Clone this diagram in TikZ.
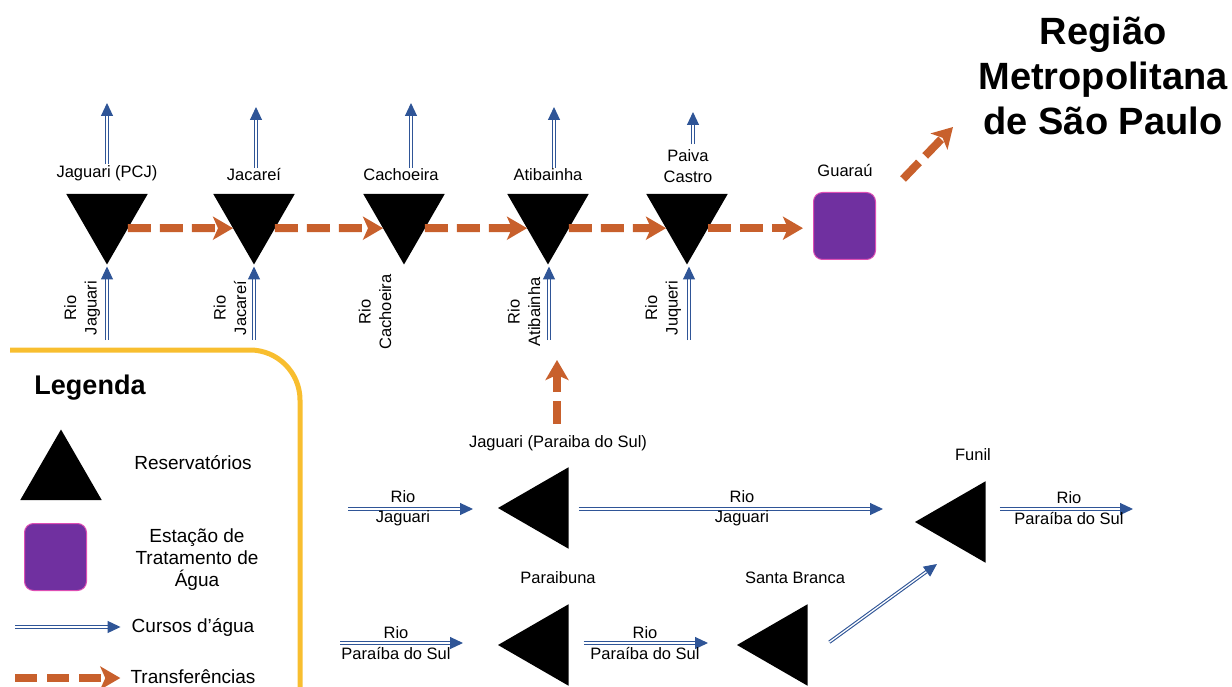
\documentclass[tikz,border=0pt]{standalone}
\usepackage{fontspec}
\setmainfont{Liberation Sans}
\usepackage{xcolor}
\definecolor{riverBlue}{HTML}{2F5597}
\definecolor{transferOrange}{HTML}{C8602C}
\definecolor{stationPurple}{HTML}{7030A0}
\definecolor{stationPink}{HTML}{DE4FB4}
\definecolor{frameGold}{HTML}{F8BE2F}
\usepackage{tikz}
\usetikzlibrary{
    shapes.geometric,
    arrows.meta,
    positioning,
    calc
}
\tikzset{
    % Base style for the small map labels
    map label/.style={
        font=\fontsize{16.5}{20.5}\selectfont,
        align=center,
        text=black,
        inner sep=1pt,
    },
    % Legend texts - a bit larger
    legend text/.style={
        font=\fontsize{19}{22}\selectfont,
        align=center,
        inner sep=1pt,
    },
    % Title of the metropolitan region
    region title/.style={
        font=\bfseries\fontsize{38}{45}\selectfont,
        align=center,
    },
    % Reservoirs - black equilateral triangles
    reservoir/.style={
        regular polygon,
        regular polygon sides=3,
        minimum size=94pt,
        fill=black,
        inner sep=0pt,
        outer sep=0pt,
    },
    reservoir down/.style={reservoir, regular polygon rotate=180},
    reservoir left/.style={reservoir, regular polygon rotate=90},
    % Water treatment station - purple rounded square
    station/.style={
        rectangle,
        rounded corners=9pt,
        fill=stationPurple,
        draw=stationPink,
        line width=1pt,
        minimum width=62pt,
        minimum height=67pt,
    },
    % Rivers - thin double blue arrow
    river/.style={
        draw=riverBlue,
        line width=1.1pt,
        double=white,
        double distance=1.3pt,
        -{Triangle[length=13pt, width=12pt]},
    },
    % Transfers - thick dashed orange arrow
    transfer/.style={
        draw=transferOrange,
        line width=8pt,
        dash pattern=on 23pt off 9pt,
        -{Stealth[length=20pt, width=23pt, inset=5pt]},
    },
    % Legend frame
    legend frame/.style={
        draw=frameGold,
        line width=5pt,
        rounded corners=50pt,
    },
}

\begin{document}
\begin{tikzpicture}[x=1pt, y=-1pt]
    \useasboundingbox (0,0) rectangle (1232,687);

    % Cantareira system (top row)
    \node (jagPCJ) [reservoir down] at (107,217.5) {};
    \node (jacarei) [reservoir down] at (254,217.5) {};
    \node (cachoeira) [reservoir down] at (404,217.5) {};
    \node (atib) [reservoir down] at (548,217.5) {};
    \node (paiva) [reservoir down] at (687,217.5) {};
    \node (guarau) [station] at (844.5,226) {};

    \node (lblJagPCJ) [map label] at (107,173) {Jaguari (PCJ)};
    \node (lblJacarei) [map label] at (254,175) {Jacareí};
    \node (lblCachoeira) [map label] at (401,175) {Cachoeira};
    \node (lblAtib) [map label] at (548,175) {Atibainha};
    \node (lblPaiva) [map label] at (688,166) {Paiva\\Castro};
    \node (lblGuarau) [map label] at (845,171) {Guaraú};

    \node (rmsp) [region title] at (1103,76) {Região\\Metropolitana\\de São Paulo};

    % rivers leaving upwards
    \coordinate (upJagPCJ) at (107,103);
    \coordinate (upJacarei) at (256,107);
    \coordinate (upCachoeira) at (411,103);
    \coordinate (upAtib) at (554,107);
    \coordinate (upPaiva) at (693,112);
    \draw [river] (lblJagPCJ.north) -- (upJagPCJ);
    \draw [river] (lblJacarei.north -| upJacarei) -- (upJacarei);
    \draw [river] (lblCachoeira.north -| upCachoeira) -- (upCachoeira);
    \draw [river] (lblAtib.north -| upAtib) -- (upAtib);
    \draw [river, shorten <=4pt] (lblPaiva.north -| upPaiva) -- (upPaiva);

    % rivers coming in from below
    \coordinate (inJagPCJ) at (107,340);
    \coordinate (inJacarei) at (254,340);
    \coordinate (inAtib) at (549,340);
    \coordinate (inJuqueri) at (689,340);
    \draw [river, shorten >=2pt] (inJagPCJ) -- (inJagPCJ |- jagPCJ.corner 1);
    \draw [river, shorten >=2pt] (inJacarei) -- (inJacarei |- jacarei.corner 1);
    \draw [river, shorten >=2pt] (inAtib) -- (inAtib |- atib.corner 1);
    \draw [river, shorten >=2pt] (inJuqueri) -- (inJuqueri |- paiva.corner 1);

    \node (rioJagPCJ) [map label, rotate=90] at (82,308) {Rio\\Jaguari};
    \node (rioJacarei) [map label, rotate=90] at (230,308) {Rio\\Jacareí};
    \node (rioCachoeira) [map label, rotate=90] at (375,312) {Rio\\Cachoeira};
    \node (rioAtib) [map label, rotate=90] at (524,312) {Rio\\Atibainha};
    \node (rioJuqueri) [map label, rotate=90] at (663,308) {Rio\\Juqueri};

    % transfers along the system
    \draw [transfer] (jagPCJ.-27) -- (jacarei.207);
    \draw [transfer] (jacarei.-27) -- (cachoeira.207);
    \draw [transfer] (cachoeira.-27) -- (atib.207);
    \draw [transfer] (atib.-27) -- (paiva.207);
    \draw [transfer, shorten >=10pt] (paiva.-27) -- (paiva.-27 -| guarau.west);
    \coordinate (toRMSP) at (953,127);
    \draw [transfer, shorten <=39pt] (guarau.31) -- (toRMSP);

    % Paraiba do Sul system (bottom)
    \node (jagPS) [reservoir left] at (545,508) {};
    \node (paraibuna) [reservoir left] at (545,645) {};
    \node (sBranca) [reservoir left] at (784,645) {};
    \node (funil) [reservoir left] at (962,522) {};

    \node (lblJagPS) [map label] at (558,443) {Jaguari (Paraiba do Sul)};
    \node (lblParaibuna) [map label] at (558,578) {Paraibuna};
    \node (lblSBranca) [map label] at (795,578) {Santa Branca};
    \node (lblFunil) [map label] at (973,455) {Funil};

    \coordinate (inJagPS) at (348,509);
    \coordinate (inParaibuna) at (340,643);
    \coordinate (outFunil) at (1133,509);
    \draw [river, shorten >=25pt] (inJagPS) -- (inJagPS -| jagPS.corner 1);
    \draw [river, shorten <=10pt, shorten >=32pt] (inJagPS -| jagPS.east) -- (inJagPS -| funil.corner 1);
    \draw [river, shorten <=14pt] (outFunil -| funil.east) -- (outFunil);
    \draw [river, shorten >=35pt] (inParaibuna) -- (inParaibuna -| paraibuna.corner 1);
    \draw [river, shorten <=15pt, shorten >=29pt] (inParaibuna -| paraibuna.east) -- (inParaibuna -| sBranca.corner 1);
    \coordinate (toFunil) at (937,564);
    \draw [river, shorten <=27pt] (sBranca.-29) -- (toFunil);

    \node (rioJagIn) [map label] at (403,508) {Rio\\Jaguari};
    \node (rioJagMid) [map label] at (742,508) {Rio\\Jaguari};
    \node (rioPSOut) [map label] at (1069,508) {Rio\\Paraíba do Sul};
    \node (rioPSIn) [map label] at (396,643) {Rio\\Paraíba do Sul};
    \node (rioPSMid) [map label] at (645,643) {Rio\\Paraíba do Sul};

    % transfer Jaguari -> Atibainha
    \coordinate (toAtib) at (557,360);
    \draw [transfer, shorten <=10pt] (lblJagPS.north -| toAtib) -- (toAtib);

    % Legend
    \draw [legend frame] (10,350) -- (300,350) -- (300,700);
    \node (legendHead) [font=\bfseries\fontsize{27}{30}\selectfont] at (90,388) {Legenda};
    \node (legReservoir) [reservoir] at (61,476.5) {};
    \node (lblReservoir) [legend text] at (193,463) {Reservatórios};
    \node (legStation) [station] at (55.5,557) {};
    \node (lblStation) [legend text] at (197,560) {Estação de\\Tratamento de\\Água};
    \node (lblRiver) [legend text] at (193,627) {Cursos d’água};
    \node (lblTransfer) [legend text] at (193,677) {Transferências};
    \coordinate (legRiver) at (15,627);
    \coordinate (legTransfer) at (15,678);
    \draw [river, shorten >=10pt] (legRiver) -- (legRiver -| lblRiver.west);
    \draw [transfer, dash pattern=on 22pt off 10pt, shorten >=9pt] (legTransfer) -- (lblTransfer.west |- legTransfer);
\end{tikzpicture}
\end{document}
